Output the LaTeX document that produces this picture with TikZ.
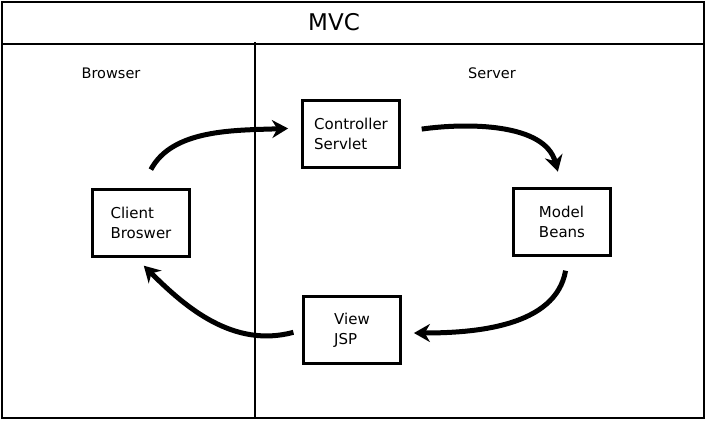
\documentclass[tikz,border=0pt]{standalone}
\usepackage{fontspec}
\setmainfont{DejaVu Sans}
\usetikzlibrary{arrows.meta}
\begin{document}
\begin{tikzpicture}[x=1pt,y=-1pt,
  frameline/.style={line width=2.5pt},
  boxnode/.style={draw,line width=2.8pt,minimum width=97pt,minimum height=67pt,
    align=left,font=\fontsize{15}{20}\selectfont,inner sep=0pt},
  lbl/.style={font=\fontsize{14.5}{18}\selectfont,inner sep=0pt},
  flow/.style={line width=5pt,-{Stealth[length=16pt,width=18pt]}}]
\useasboundingbox (0,0) rectangle (706,420);
\draw[frameline] (2,2) rectangle (704,418);
\draw[frameline] (2,44) -- (704,44);
\draw[line width=2pt] (255,42) -- (255,418);
\node[font=\fontsize{23}{26}\selectfont,inner sep=0pt] (title) at (334,22) {MVC};
\node[lbl] (blabel) at (111,73) {Browser};
\node[lbl] (slabel) at (492,73) {Server};
\node[boxnode] (client) at (141,223) {Client\\Broswer};
\node[boxnode] (ctrl) at (351,134) {Controller\\Servlet};
\node[boxnode] (model) at (562,222) {Model\\Beans};
\node[boxnode] (view) at (352,330) {View\\JSP};
\draw[flow,shorten <=21pt,shorten >=13pt] (client.north) to[out=62,in=182] ([yshift=6pt]ctrl.west);
\draw[flow,shorten <=21pt,shorten >=16pt] ([yshift=2pt]ctrl.east) to[out=8,in=105] (model.north);
\draw[flow,shorten <=14pt,shorten >=12pt] ([xshift=6pt]model.south) to[out=-100,in=0] ([yshift=-3pt]view.east);
\draw[flow,shorten <=9pt,shorten >=11pt] (view.west) to[out=195,in=-45] ([xshift=-5pt]client.south);
\end{tikzpicture}
\end{document}
